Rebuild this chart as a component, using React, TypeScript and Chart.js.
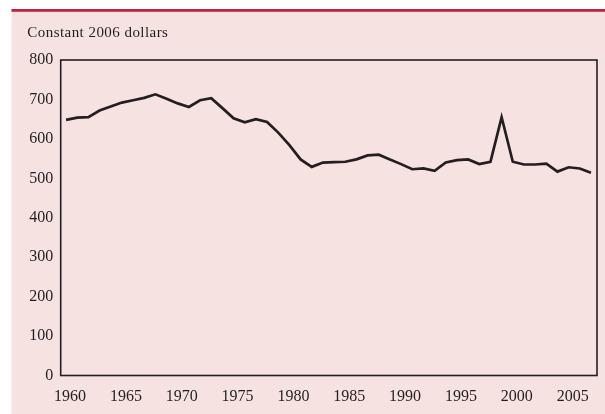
import { useEffect, useRef } from 'react';
import { Chart, registerables } from 'chart.js';

Chart.register(...registerables);

const YEARS = [
  1960, 1961, 1962, 1963, 1964, 1965, 1966, 1967, 1968, 1969,
  1970, 1971, 1972, 1973, 1974, 1975, 1976, 1977, 1978, 1979,
  1980, 1981, 1982, 1983, 1984, 1985, 1986, 1987, 1988, 1989,
  1990, 1991, 1992, 1993, 1994, 1995, 1996, 1997, 1998, 1999,
  2000, 2001, 2002, 2003, 2004, 2005, 2006, 2007,
];

const VALUES = [
  648, 654, 655, 672, 682, 692, 698, 704, 713, 702,
  690, 681, 698, 703, 678, 652, 642, 650, 643, 616,
  584, 548, 529, 540, 541, 542, 548, 558, 560, 548,
  536, 523, 525, 519, 540, 546, 548, 536, 542, 655,
  542, 535, 535, 537, 517, 528, 525, 514,
];

const X_TICKS = [1960, 1965, 1970, 1975, 1980, 1985, 1990, 1995, 2000, 2005];
const Y_TICKS = [0, 100, 200, 300, 400, 500, 600, 700, 800];
const UNIT_LABEL = 'Constant 2006 dollars';

const PINK = '#f6e2e1';
const RED = '#c1223f';
const INK = '#231f20';
const FONT = "'Liberation Serif', 'Times New Roman', serif";

const decorPlugin = {
  id: 'decor',
  beforeDraw(chart: any) {
    const { ctx, width, height } = chart;
    ctx.save();
    ctx.fillStyle = '#ffffff';
    ctx.fillRect(0, 0, width, height);
    ctx.fillStyle = PINK;
    ctx.fillRect(11.5, 9, width - 11.5, height - 9);
    ctx.fillStyle = RED;
    ctx.fillRect(11.5, 9, width - 11.5, 2.8);
    ctx.fillStyle = INK;
    ctx.font = `15px ${FONT}`;
    try { (ctx as any).letterSpacing = '0.45px'; } catch (e) {}
    ctx.textBaseline = 'alphabetic';
    ctx.textAlign = 'left';
    ctx.fillText(UNIT_LABEL, 27.3, 36.7);
    try { (ctx as any).letterSpacing = '0px'; } catch (e) {}
    ctx.restore();
  },
  beforeDatasetsDraw(chart: any) {
    const { ctx, chartArea } = chart;
    ctx.save();
    ctx.strokeStyle = INK;
    ctx.lineWidth = 1.6;
    ctx.strokeRect(
      chartArea.left,
      chartArea.top,
      chartArea.right - chartArea.left,
      chartArea.bottom - chartArea.top
    );
    ctx.restore();
  },
};

export default function App() {
  const canvasRef = useRef<HTMLCanvasElement | null>(null);

  useEffect(() => {
    const canvas = canvasRef.current;
    if (!canvas) return;
    const chart = new Chart(canvas, {
      type: 'line',
      data: {
        datasets: [
          {
            data: YEARS.map((y, i) => ({ x: y, y: VALUES[i] })),
            borderColor: INK,
            borderWidth: 2.7,
            pointRadius: 0,
            fill: false,
            tension: 0,
          },
        ],
      },
      options: {
        animation: false,
        responsive: false,
        devicePixelRatio: 1,
        layout: { padding: { left: 0, right: 8, top: 60, bottom: 0 } },
        plugins: {
          legend: { display: false },
          tooltip: { enabled: false },
          title: { display: false },
        },
        scales: {
          x: {
            type: 'linear',
            min: 1959.52,
            max: 2007.54,
            afterBuildTicks: (s: any) => {
              s.ticks = X_TICKS.map((v) => ({ value: v }));
            },
            afterFit: (s: any) => {
              s.height = 38.5;
            },
            grid: { display: false, drawTicks: false },
            border: { display: false },
            ticks: {
              autoSkip: false,
              maxRotation: 0,
              padding: 12,
              labelOffset: 4,
              color: INK,
              font: { family: FONT, size: 16 },
              callback: (v: any) => String(v),
            },
          },
          y: {
            type: 'linear',
            min: 0,
            max: 800,
            afterBuildTicks: (s: any) => {
              s.ticks = Y_TICKS.map((v) => ({ value: v }));
            },
            afterFit: (s: any) => {
              s.width = 60.7;
            },
            grid: { display: false, drawTicks: false },
            border: { display: false },
            ticks: {
              padding: 7.5,
              color: INK,
              font: { family: FONT, size: 16 },
              callback: (v: any) => String(v),
            },
          },
        },
      },
      plugins: [decorPlugin],
    } as any);
    return () => chart.destroy();
  }, []);

  return (
    <div style={{ position: 'fixed', left: 0, top: 0, width: 605, height: 414 }}>
      <canvas ref={canvasRef} width={605} height={414} style={{ display: 'block' }} />
    </div>
  );
}
